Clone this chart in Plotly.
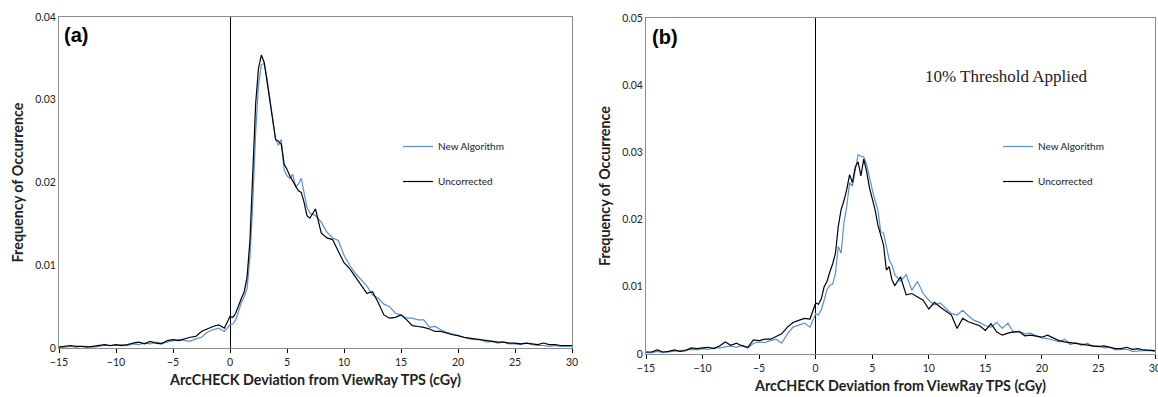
import plotly.graph_objects as go

# ---------------- data ----------------
X = [-15, -14.5, -14, -13.5, -13, -12.5, -12, -11.5, -11, -10.5, -10, -9.5, -9, -8.5, -8,
     -7.5, -7, -6.5, -6, -5.5, -5, -4.5, -4, -3.5, -3, -2.5, -2, -1.5, -1, -0.5,
     0, 0.25, 0.5, 0.75, 1, 1.25, 1.5, 1.75, 2, 2.25, 2.5, 2.75, 3, 3.25, 3.5, 3.75,
     4, 4.25, 4.5, 4.75, 5, 5.25, 5.5, 5.75, 6, 6.25, 6.5, 6.75, 7,
     7.5, 8, 8.5, 9, 9.5, 10, 10.5, 11, 11.5, 12, 12.5, 13, 13.5, 14, 14.5, 15, 15.5,
     16, 16.5, 17, 17.5, 18, 18.5, 19, 19.5, 20, 20.5, 21, 21.5, 22, 22.5, 23, 23.5,
     24, 24.5, 25, 25.5, 26, 26.5, 27, 27.5, 28, 28.5, 29, 29.5, 30]

a_uncorrected = [
    .0001, .0002, .0003, .0002, .0002, .0001, .0002, .0003, .0004, .0003, .0004, .0003, .0004, .0006, .0007,
    .0005, .0008, .0006, .0005, .0009, .0010, .0009, .0011, .0013, .0014, .0020, .0023, .0026, .0028, .0024,
    .0038, .0037, .0042, .0052, .0060, .0068, .0086, .0130, .0205, .0295, .0338, .0354, .0345, .0322, .0302, .0276,
    .0252, .0250, .0246, .0222, .0216, .0208, .0202, .0195, .0190, .0188, .0176, .0160, .0157,
    .0168, .0139, .0133, .0131, .0117, .0103, .0096, .0086, .0076, .0066, .0068, .0055, .0040, .0036, .0037, .0040, .0034,
    .0027, .0026, .0025, .0023, .0020, .0020, .0018, .0016, .0015, .0013, .0012, .0011, .0010, .0009, .0008, .0007,
    .0007, .0006, .0006, .0005, .0006, .0005, .0004, .0006, .0004, .0004, .0003, .0003, .0003]

a_new = [
    .0001, .0001, .0002, .0001, .0002, .0002, .0001, .0002, .0003, .0003, .0003, .0004, .0003, .0005, .0004,
    .0006, .0005, .0007, .0006, .0007, .0009, .0010, .0009, .0008, .0011, .0013, .0019, .0022, .0024, .0020,
    .0028, .0029, .0034, .0045, .0055, .0062, .0072, .0110, .0175, .0260, .0318, .0342, .0344, .0326, .0300, .0278,
    .0252, .0245, .0252, .0215, .0208, .0205, .0210, .0195, .0198, .0205, .0188, .0170, .0163,
    .0160, .0152, .0140, .0133, .0130, .0112, .0100, .0090, .0082, .0075, .0064, .0060, .0053, .0050, .0042, .0040, .0036,
    .0036, .0034, .0034, .0025, .0026, .0022, .0019, .0017, .0015, .0013, .0011, .0010, .0010, .0007, .0008, .0006,
    .0007, .0005, .0005, .0004, .0006, .0004, .0003, .0003, .0002, .0003, .0002, .0002, .0002]

b_uncorrected = [
    .0003, .0003, .0006, .0003, .0004, .0006, .0004, .0005, .0009, .0008, .0009, .0010, .0008, .0012, .0018,
    .0013, .0016, .0012, .0010, .0021, .0020, .0022, .0022, .0026, .0030, .0040, .0047, .0050, .0053, .0052,
    .0076, .0074, .0082, .0100, .0108, .0122, .0134, .0150, .0190, .0215, .0228, .0245, .0267, .0255, .0278, .0286,
    .0265, .0290, .0272, .0248, .0232, .0215, .0192, .0175, .0162, .0125, .0130, .0110, .0102,
    .0115, .0088, .0090, .0085, .0080, .0067, .0077, .0070, .0064, .0058, .0038, .0053, .0048, .0045, .0042, .0035, .0045,
    .0033, .0028, .0031, .0033, .0033, .0027, .0028, .0026, .0025, .0028, .0024, .0020, .0018, .0017, .0016, .0015,
    .0013, .0012, .0011, .0012, .0010, .0008, .0008, .0010, .0007, .0008, .0006, .0006, .0005]

b_new = [
    .0002, .0002, .0004, .0002, .0003, .0004, .0004, .0006, .0007, .0006, .0008, .0007, .0009, .0009, .0011,
    .0012, .0010, .0013, .0009, .0016, .0018, .0017, .0020, .0022, .0016, .0030, .0040, .0043, .0046, .0040,
    .0060, .0058, .0066, .0080, .0096, .0102, .0104, .0120, .0160, .0150, .0195, .0220, .0255, .0250, .0272, .0297,
    .0294, .0293, .0282, .0262, .0245, .0228, .0215, .0182, .0180, .0160, .0140, .0132, .0118,
    .0108, .0118, .0095, .0108, .0090, .0080, .0073, .0076, .0068, .0060, .0058, .0065, .0057, .0050, .0047, .0042, .0040,
    .0047, .0038, .0046, .0032, .0034, .0030, .0031, .0027, .0024, .0023, .0020, .0018, .0022, .0014, .0017, .0013,
    .0016, .0011, .0012, .0009, .0010, .0006, .0007, .0007, .0004, .0005, .0005, .0005, .0004]

X_TICKS = [-15, -10, -5, 0, 5, 10, 15, 20, 25, 30]
A_Y_TICKS = [0, 0.01, 0.02, 0.03, 0.04]
A_Y_LABELS = ["0", "0.01", "0.02", "0.03", "0.04"]
B_Y_TICKS = [0, 0.01, 0.02, 0.03, 0.04, 0.05]
B_Y_LABELS = ["0", "0.01", "0.02", "0.03", "0.04", "0.05"]

SERIES_NAMES = ["New Algorithm", "Uncorrected"]
X_TITLE = "ArcCHECK Deviation from ViewRay TPS (cGy)"
Y_TITLE = "Frequency of Occurrence"

# ---------------- style ----------------
BLUE = "#5B8ED6"
BLACK = "#000000"
FONT = "Lato"
W, H = 1158, 397

fig = go.Figure()

fig.add_trace(go.Scatter(x=X, y=a_new, mode="lines", name=SERIES_NAMES[0],
                         line=dict(color=BLUE, width=1.2), xaxis="x", yaxis="y",
                         legend="legend", legendgroup="a1"))
fig.add_trace(go.Scatter(x=X, y=a_uncorrected, mode="lines", name=SERIES_NAMES[1],
                         line=dict(color=BLACK, width=1.2), xaxis="x", yaxis="y",
                         legend="legend", legendgroup="a2"))
fig.add_trace(go.Scatter(x=X, y=b_new, mode="lines", name=SERIES_NAMES[0],
                         line=dict(color=BLUE, width=1.2), xaxis="x2", yaxis="y2",
                         legend="legend2", legendgroup="b1"))
fig.add_trace(go.Scatter(x=X, y=b_uncorrected, mode="lines", name=SERIES_NAMES[1],
                         line=dict(color=BLACK, width=1.2), xaxis="x2", yaxis="y2",
                         legend="legend2", legendgroup="b2"))


def xaxis(domain, anchor):
    return dict(domain=domain, anchor=anchor, range=[-15, 30], tickvals=X_TICKS,
                automargin=False, ticklabeloverflow="allow",
                ticks="outside", ticklen=4, tickcolor=BLACK, tickwidth=1,
                showgrid=False, showline=True, mirror=True, linecolor="#8C8C8C", linewidth=1,
                zeroline=True, zerolinecolor=BLACK, zerolinewidth=1,
                tickfont=dict(family=FONT, size=10.5, color="#222"),
                title=dict(text="<b>" + X_TITLE + "</b>", font=dict(family=FONT, size=14.3, color="#222"),
                           standoff=8))


def yaxis(domain, anchor, rng, vals, labels):
    return dict(domain=domain, anchor=anchor, range=rng, tickvals=vals, ticktext=labels,
                automargin=False,
                ticks="", showgrid=False, showline=True, mirror=True, linecolor="#8C8C8C", linewidth=1,
                zeroline=True, zerolinecolor=BLACK, zerolinewidth=1.3,
                tickfont=dict(family=FONT, size=10.5, color="#222"),
                title=dict(text="<b>" + Y_TITLE + "</b>", font=dict(family=FONT, size=14.3, color="#222"),
                           standoff=8))


fig.update_layout(
    width=W, height=H, margin=dict(l=0, r=0, t=0, b=0),
    paper_bgcolor="white", plot_bgcolor="white",
    xaxis=xaxis([59 / W, 572 / W], "y"),
    yaxis=yaxis([49 / H, 380 / H], "x", [0, 0.04], A_Y_TICKS, A_Y_LABELS),
    xaxis2=xaxis([646 / W, 1155 / W], "y2"),
    yaxis2=yaxis([43 / H, 379 / H], "x2", [0, 0.05], B_Y_TICKS, B_Y_LABELS),
    legend=dict(x=398 / W, y=1 - 132 / H, xanchor="left", yanchor="top",
                bgcolor="rgba(0,0,0,0)", traceorder="grouped", tracegroupgap=16,
                font=dict(family=FONT, size=10, color="#222")),
    legend2=dict(x=998 / W, y=1 - 132 / H, xanchor="left", yanchor="top",
                 bgcolor="rgba(0,0,0,0)", traceorder="grouped", tracegroupgap=16,
                 font=dict(family=FONT, size=10, color="#222")),
    annotations=[
        dict(text="<b>(a)</b>", xref="paper", yref="paper", x=62 / W, y=1 - 35 / H,
             xanchor="left", yanchor="middle", showarrow=False,
             font=dict(family="Liberation Sans", size=20, color=BLACK)),
        dict(text="<b>(b)</b>", xref="paper", yref="paper", x=650 / W, y=1 - 37 / H,
             xanchor="left", yanchor="middle", showarrow=False,
             font=dict(family="Liberation Sans", size=20, color=BLACK)),
        dict(text="10% Threshold Applied", xref="paper", yref="paper", x=1006 / W, y=1 - 76 / H,
             xanchor="center", yanchor="middle", showarrow=False,
             font=dict(family="Liberation Serif", size=17, color="#222")),
    ],
)

fig.write_html("out.html")
